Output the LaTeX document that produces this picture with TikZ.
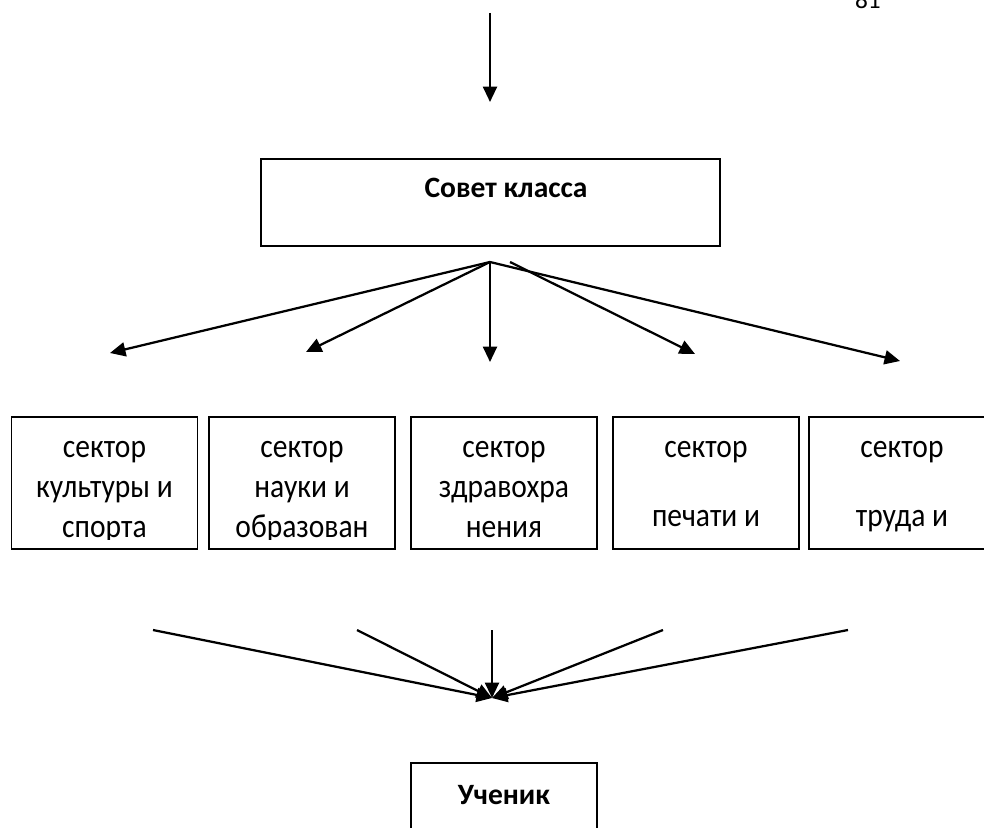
\documentclass[tikz,border=0pt]{standalone}
\usepackage{fontspec}
\setmainfont{Carlito}
\usetikzlibrary{arrows.meta}
\tikzset{
  bare/.style={inner sep=0pt, outer sep=0pt},
  box/.style={bare, draw, line width=1.2pt},
  sectorbox/.style={box, minimum width=4.65cm, minimum height=3.3cm},
  sectortext/.style={bare, align=center, yscale=1.13, transform shape,
    font=\fontsize{21pt}{25.2pt}\selectfont},
  titletext/.style={bare, font=\fontsize{21pt}{25pt}\selectfont\bfseries},
  conn/.style={line width=1.6pt, -{Triangle[length=11pt,width=10pt]}},
}

\begin{document}
\begin{tikzpicture}[x=0.025cm, y=-0.025cm]
    \useasboundingbox (0,0) rectangle (984,827);
    % page number, cut at the top
    \node [bare, anchor=base west, font=\fontsize{18pt}{20pt}\selectfont] (page) at (855,9) {81};

    % top
    \coordinate (in) at (490,13);
    \coordinate (in-end) at (490,102);
    \draw [conn] (in) -- (in-end);
    \node [box, minimum width=11.475cm, minimum height=2.175cm] (sovet) at (490.5,202.5) {};
    \node [titletext] (sovet-t) at (506,188) {Совет класса};

    % fan out
    \coordinate (hub) at (490,262);
    \coordinate (hub2) at (510,262);
    \coordinate (a1) at (110,353);
    \coordinate (a2) at (306,352);
    \coordinate (a3) at (490,362);
    \coordinate (a4) at (695,354);
    \coordinate (a5) at (900,361);
    \foreach \t in {a1,a2,a3,a5}
        \draw [conn] (hub) -- (\t);
    \draw [conn] (hub2) -- (a4);

    % sectors, text cut off inside the box
    \foreach \n/\cx/\txt in {s1/104.5/{сектор\\культуры и\\спорта},
                              s2/302/{сектор\\науки и\\образован},
                              s3/504/{сектор\\здравохра\\нения},
                              s4/706/{сектор\\[18.2pt]печати и},
                              s5/902/{сектор\\[18.2pt]труда и}} {
        \node [sectorbox] (\n) at (\cx,483) {};
        \begin{scope}
            \clip (\n.north west) rectangle ([yshift=0.25cm]\n.south east);
            \node [sectortext, anchor=north] (\n-t) at ([yshift=-8.9pt]\n.north) {\strut\txt};
        \end{scope}
    }

    % fan in
    \coordinate (focus) at (492,698);
    \coordinate (b1) at (153,630);
    \coordinate (b2) at (357,630);
    \coordinate (b3) at (492,630);
    \coordinate (b4) at (663,630);
    \coordinate (b5) at (848,630);
    \foreach \t in {b1,b2,b3,b4,b5}
        \draw [conn] (\t) -- (focus);

    % bottom
    \node [box, minimum width=4.65cm, minimum height=3.3cm, anchor=north] (uchenik) at (504,763) {};
    \node [titletext] (uchenik-t) at (504,795) {Ученик};
\end{tikzpicture}
\end{document}
